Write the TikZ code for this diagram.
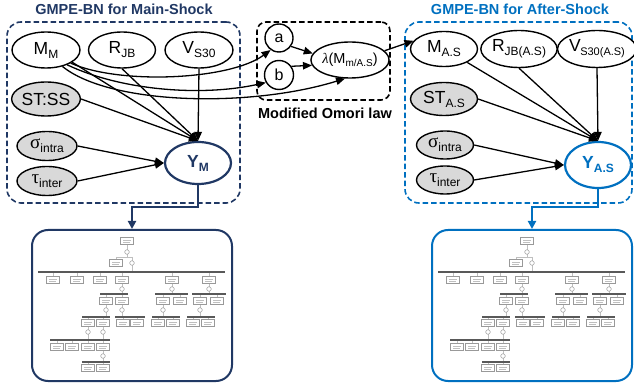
\documentclass[tikz,border=0pt]{standalone}
\usepackage{fontspec}
\setmainfont{Liberation Sans}
\newfontfamily\greekfont{Liberation Serif}
\usetikzlibrary{shapes.geometric,arrows.meta}

\definecolor{navy}{HTML}{203864}
\definecolor{skyblue}{HTML}{0070C0}
\definecolor{obsgray}{HTML}{D9D9D9}

% lowered, smaller subscript text
\newcommand{\sbs}[1]{\raisebox{-4pt}{\fontsize{12}{13}\selectfont #1}}
\newcommand{\sbsn}[1]{\raisebox{-4pt}{\fontsize{11}{12}\selectfont #1}}
\newcommand{\gk}[1]{{\greekfont\fontsize{19}{20}\selectfont #1}}

% miniature fault tree (drawn in picture units, 1 unit = 1pt)
\newcommand{\faulttree}{%
  \draw[ftline] (127,244.5) -- (127,257) (116,257) -- (132,257)
                (116,257) -- (116,259.5) (132,257) -- (132,272);
  \foreach \x/\ya/\yb in {53/272/276.5, 77/272/276.5, 100/272/276.5, 122/272/276.5,
      172/272/276.5, 209/272/276.5,
      106/294/297.5, 122/294/297.5, 163/294/297.5, 180/294/297.5, 200/294/297.5, 217/294/297.5,
      88/317/319.5, 103/317/319.5, 123/317/319.5, 137/317/319.5,
      158/317/319.5, 173/317/319.5, 193/317/319.5, 208/317/319.5,
      57/340/343.5, 72/340/343.5, 88/340/343.5, 103/340/343.5,
      88/362/364.5, 103/362/364.5,
      122/283.5/294, 172/283.5/294, 209/283.5/294,
      106/304.5/317, 122/304.5/317, 163/304.5/317, 200/304.5/317,
      88/326.5/340, 103/326.5/340, 103/350.5/362}
    {\draw[ftline] (\x,\ya) -- (\x,\yb);}
  \foreach \xa/\xb/\y in {38/225/272, 100/128/294, 155/188/294, 192/226/294,
      82/110/317, 115/145/317, 152/180/317, 187/215/317, 50/110/340, 82/110/362}
    {\draw[ftbar] (\xa,\y) -- (\xb,\y);}
  \foreach \x/\y in {127/241, 116/263,
      53/280, 77/280, 100/280, 122/280, 172/280, 209/280,
      106/301, 122/301, 163/301, 180/301, 200/301, 217/301,
      88/323, 103/323, 123/323, 137/323, 158/323, 173/323, 193/323, 208/323,
      57/347, 72/347, 88/347, 103/347, 88/368, 103/368}
    {\draw[ftbox] (\x-6.5,\y-3.5) rectangle (\x+6.5,\y+3.5);
     \draw[ftline] (\x-4,\y-1) -- (\x+4,\y-1) (\x-4,\y+1) -- (\x+3,\y+1);}
  \foreach \x/\y in {127/252, 132/263, 122/289, 172/289, 209/289,
      106/310, 122/310, 163/310, 200/310, 88/332, 103/332, 103/356}
    {\draw[ftgate] (\x,\y) circle[radius=2.3pt];}
}

\begin{document}
\begin{tikzpicture}[x=1pt,y=-1pt,
  var/.style={ellipse, draw=black, line width=1.4pt, fill=white, inner sep=0pt,
              font=\fontsize{17.5}{19}\selectfont},
  obs/.style={var, fill=obsgray},
  resp/.style={var, line width=2.2pt, font=\fontsize{17.5}{19}\selectfont\bfseries},
  arr/.style={line width=1.3pt, -{Triangle[length=9pt,width=7.5pt]}},
  grp/.style={draw, dash pattern=on 5.5pt off 3pt, line width=1.6pt,
              rounded corners=14pt, inner sep=0pt},
  ttl/.style={font=\fontsize{14.5}{16}\selectfont\bfseries, inner sep=0pt},
  ftframe/.style={draw, line width=2pt, rounded corners=16pt, inner sep=0pt},
  link/.style={line width=2.2pt, -{Triangle[length=8pt,width=8pt]}},
  ftbox/.style={draw=black!40, fill=white, line width=0.5pt},
  ftbar/.style={draw=black!65, line width=1.1pt},
  ftline/.style={draw=black!25, line width=0.4pt},
  ftgate/.style={draw=black!40, fill=white, line width=0.5pt},
]
\useasboundingbox (0,0) rectangle (634,387);

% group frames and titles
\node[grp, draw=navy, minimum width=233pt, minimum height=181pt] (gm) at (123.5,112.5) {};
\node[grp, draw=black, minimum width=133pt, minimum height=78pt, rounded corners=9pt] (go) at (323.5,61) {};
\node[grp, draw=skyblue, minimum width=227pt, minimum height=181pt] (ga) at (518.5,112.5) {};
\node[ttl, text=navy] (tm) at (124,9) {GMPE-BN for Main-Shock};
\node[ttl, text=skyblue] (ta) at (520,9) {GMPE-BN for After-Shock};
\node[ttl, text=black] (tomori) at (325,113) {Modified Omori law};

% main-shock network
\node[var, minimum width=68pt, minimum height=36pt] (mm) at (46,50) {M\sbs{M}};
\node[var, minimum width=67pt, minimum height=36pt] (rjb) at (122,50) {R\sbs{JB}};
\node[var, minimum width=68pt, minimum height=36pt] (vs) at (199,50) {V\sbs{S30}};
\node[obs, minimum width=67pt, minimum height=34pt] (st) at (46,99) {ST:SS};
\node[obs, minimum width=60pt, minimum height=29pt] (sig) at (47,146) {\gk{σ}\sbs{intra}};
\node[obs, minimum width=60pt, minimum height=29pt] (tau) at (47,181) {\gk{τ}\sbs{inter}};
\node[resp, draw=navy, text=navy, minimum width=66pt, minimum height=42pt] (ym) at (198,163) {Y\sbs{M}};

% Omori law
\node[var, circle, minimum size=28pt, font=\fontsize{16}{17}\selectfont] (a) at (279,38) {a};
\node[var, circle, minimum size=29pt, font=\fontsize{16}{17}\selectfont] (b) at (279,75) {b};
\node[var, minimum width=62pt, minimum height=36pt, font=\fontsize{14.5}{16}\selectfont] (lam) at (350,60)
  {{\greekfont\itshape λ}(M{\raisebox{-3pt}{\fontsize{10}{11}\selectfont m/A.S}})};

% after-shock network
\node[var, minimum width=67pt, minimum height=35pt] (mas) at (444,49) {M\sbs{A.S}};
\node[var, minimum width=64pt, minimum height=37pt] (rjbas) at (519,49) {R\sbs{JB(A.S)}};
\node[var, minimum width=70pt, minimum height=37pt, inner xsep=0pt] (vsas) at (597,49) {V\kern-0.5pt\sbsn{S30(A.S)}};
\node[obs, minimum width=67pt, minimum height=33pt] (stas) at (444,99) {ST\sbs{A.S}};
\node[obs, minimum width=57pt, minimum height=28pt] (sigas) at (445,145) {\gk{σ}\sbs{intra}};
\node[obs, minimum width=57pt, minimum height=28pt] (tauas) at (445,180) {\gk{τ}\sbs{inter}};
\node[resp, draw=skyblue, text=skyblue, minimum width=66pt, minimum height=46pt] (yas) at (598,165) {Y\sbs{A.S}};

% fault tree frames
\node[ftframe, draw=navy, minimum width=200pt, minimum height=151pt] (ftm) at (132,305.5) {};
\node[ftframe, draw=skyblue, minimum width=200pt, minimum height=151pt] (fta) at (532,305.5) {};
\faulttree
\begin{scope}[xshift=400pt]
  \faulttree
\end{scope}

% main-shock edges
\draw[arr] (mm.-25) -- (ym.north);
\draw[arr] (rjb.south) -- (ym.north);
\draw[arr] (vs.south) -- (ym.north);
\draw[arr] (st.east) -- (ym.north);
\draw[arr] (sig.east) -- (ym.west);
\draw[arr] (tau.east) -- (ym.west);

% magnitude into the Omori law
\draw[arr] (mm.-28) .. controls (120,85) and (230,80) .. (a.235);
\draw[arr] (mm.-35) .. controls (120,90) and (200,97) .. (b.210);
\draw[arr] (mm.-45) .. controls (110,105) and (250,108) .. (lam.255);
\draw[arr] (a.-35) -- (lam.170);
\draw[arr] (b.35) -- (lam.188);
\draw[arr] (lam.15) -- (mas.165);

% after-shock edges
\draw[arr] (mas.-30) -- (yas.north);
\draw[arr] (rjbas.south) -- (yas.north);
\draw[arr] (vsas.south) -- (yas.north);
\draw[arr] (stas.east) -- (yas.north);
\draw[arr] (sigas.east) -- (yas.west);
\draw[arr] (tauas.east) -- (yas.west);

% links to the fault trees
\coordinate (jm) at (198,207);
\coordinate (ja) at (598,207);
\draw[link, navy] (ym.south) -- (jm) -| (ftm.north);
\draw[link, skyblue] (yas.south) -- (ja) -| (fta.north);
\end{tikzpicture}
\end{document}
